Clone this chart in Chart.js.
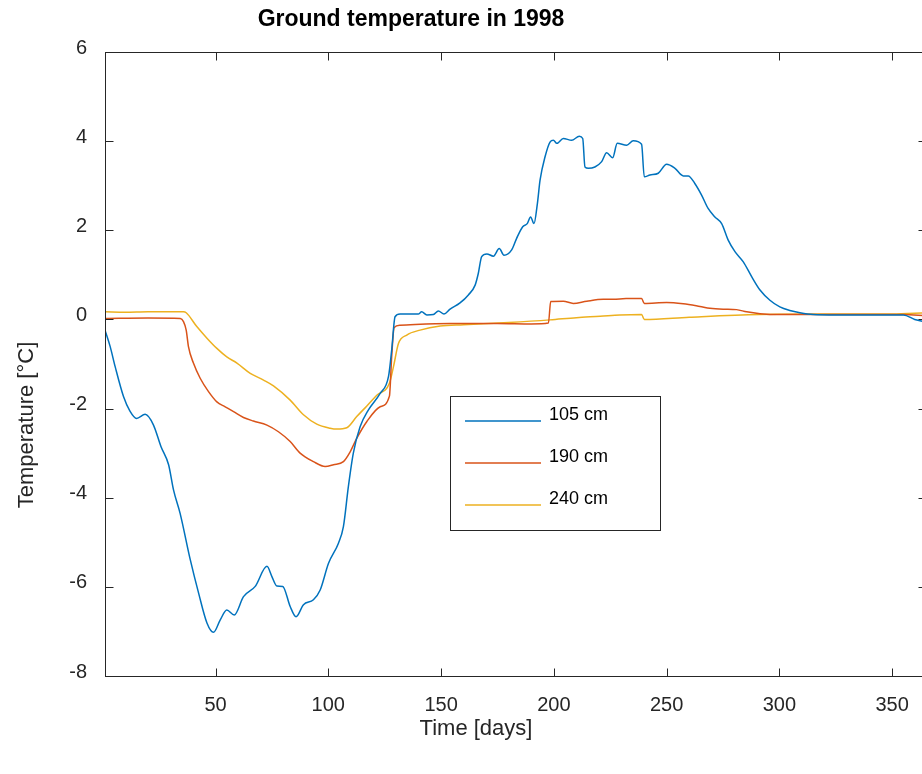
<!DOCTYPE html>
<html>
<head>
<meta charset="utf-8">
<title>Ground temperature in 1998</title>
<script src="https://cdn.jsdelivr.net/npm/chart.js@4.4.1/dist/chart.umd.min.js"></script>
<style>
  html, body { margin: 0; padding: 0; overflow: hidden; background: #fff; }
  #wrap { width: 940px; height: 774px; }
</style>
</head>
<body>
<div id="wrap"><canvas id="groundChart" width="940" height="774"></canvas></div>
<script>
// Daily ground temperature at three depths, 1998
const days105 = [1, 3.3, 5.5, 9.2, 12, 15, 18.8, 22.5, 25.8, 29.2, 31.4, 34.3, 38.8, 42.5, 46.2, 49.1, 52.1, 55, 58.3, 62.4,
  67.6, 72.8, 75, 77.2, 79.8, 83.1, 85.7, 89, 93.4, 96.4, 100.1, 104.5, 106.7, 108.9, 111.1, 114.1, 117.8, 123, 126.7, 128.1,
  129.6, 131.8, 139.9, 141.4, 143.7, 146.6, 148.8, 151.3, 154, 158.4, 162.1, 165.1, 166.5, 168, 170.3, 173.2, 175.8, 177.9,
  181.3, 183.5, 186.2, 188.2, 189.7, 191.2, 192.7, 193.9, 196.1, 198.3, 199.8, 201.3, 204.2, 207.9, 211.3, 212.8, 213.8,
  215.3, 218.2, 221.2, 223.4, 226.1, 228.1, 232.3, 235.2, 238.9, 240.1, 242.6, 246.3, 250, 253.7, 257.4, 259.6, 262.5,
  265.5, 268.4, 271.4, 274.4, 277.3, 280.3, 284, 287.7, 291.4, 295.8, 300.2, 304.6, 309.1, 315, 325, 340, 355, 360, 365];
const temp105 = [-0.24, -0.61, -1.06, -1.73, -2.05, -2.22, -2.13, -2.37, -2.85, -3.26, -3.83, -4.35, -5.39, -6.14, -6.81, -7.02, -6.74, -6.52, -6.63, -6.22,
  -5.99, -5.54, -5.77, -5.98, -5.99, -6.44, -6.67, -6.40, -6.29, -6.07, -5.47, -5.02, -4.65, -3.75, -3.00, -2.41, -2.03, -1.66, -1.28, -0.69,
  0.06, 0.12, 0.12, 0.17, 0.10, 0.11, 0.19, 0.12, 0.23, 0.37, 0.55, 0.77, 1.03, 1.41, 1.47, 1.42, 1.59, 1.44,
  1.56, 1.82, 2.08, 2.15, 2.30, 2.15, 2.60, 3.13, 3.65, 3.98, 4.02, 3.95, 4.06, 4.02, 4.11, 4.06, 3.42,
  3.39, 3.42, 3.54, 3.74, 3.63, 3.95, 3.91, 4.01, 3.93, 3.20, 3.24, 3.28, 3.48, 3.39, 3.22, 3.22, 3.05,
  2.79, 2.49, 2.30, 2.15, 1.78, 1.52, 1.29, 0.96, 0.66, 0.43, 0.28, 0.20, 0.15, 0.11, 0.10, 0.10, 0.10, 0.0, -0.06];

const days190 = [1, 20, 34.4, 35.8, 37, 38, 40.2, 43.2, 46.9, 50.6, 54.3, 58, 62.4, 66.8, 72.8, 77.9, 83.1, 87.5, 93.4, 98.6,
  102.3, 106.7, 109.7, 112.6, 117.1, 123, 127.1, 128.1, 129.2, 131.8, 154, 175, 190, 197.6, 198.6, 204.2, 208.6, 214.6,
  221.9, 226.4, 232, 238.9, 240.1, 250, 257.4, 264.8, 269.2, 275.1, 281, 285.5, 291.4, 300, 330, 355, 365];
const temp190 = [0.02, 0.03, 0.02, -0.05, -0.24, -0.61, -0.98, -1.32, -1.62, -1.85, -1.96, -2.07, -2.20, -2.28, -2.37, -2.52, -2.74, -3.00, -3.19, -3.30,
  -3.26, -3.19, -2.97, -2.67, -2.29, -1.96, -1.72, -0.84, -0.18, -0.13, -0.09, -0.09, -0.10, -0.08, 0.40, 0.41, 0.36, 0.41,
  0.45, 0.45, 0.47, 0.47, 0.36, 0.38, 0.35, 0.29, 0.25, 0.23, 0.22, 0.17, 0.13, 0.11, 0.11, 0.11, 0.08];

const days240 = [1, 10, 20, 35.8, 37, 41.7, 46.2, 50.6, 55, 59.5, 65.4, 71.3, 75.7, 83.1, 89, 94.9, 100.8, 103.8, 108.2, 112.6,
  117.1, 121.5, 127.1, 128.9, 131.1, 134.8, 140.7, 149.6, 160, 180, 198.3, 210, 220.5, 229.3, 238.9, 240.1, 260, 291, 320, 350, 365];
const temp240 = [0.17, 0.16, 0.17, 0.17, 0.15, -0.16, -0.42, -0.65, -0.84, -0.98, -1.21, -1.36, -1.49, -1.81, -2.14, -2.35, -2.44, -2.46, -2.43, -2.18,
  -1.94, -1.70, -1.43, -1.06, -0.54, -0.35, -0.24, -0.15, -0.12, -0.07, -0.01, 0.04, 0.07, 0.10, 0.11, 0.0, 0.05, 0.11, 0.12, 0.12, 0.15];

const depthLabels = ['105 cm', '190 cm', '240 cm'];
const lineColors = ['#0072BD', '#D95319', '#EDB120'];
const xTickValues = [50, 100, 150, 200, 250, 300, 350];
const yTickValues = [-8, -6, -4, -2, 0, 2, 4, 6];

const FONT = 'Liberation Sans, Arial, Helvetica, sans-serif';
const AXIS_COLOR = '#262626';

const toPoints = (xs, ys) => xs.map((x, i) => ({ x: x, y: ys[i] }));

// MATLAB-like box: frame, inward ticks, titles and a boxed legend
const axesBox = {
  id: 'axesBox',
  afterDatasetsDraw(chart) {
    const { ctx, chartArea: a, scales } = chart;
    const L = Math.round(a.left) + 0.5, R = Math.round(a.right) + 0.5;
    const T = Math.round(a.top) + 0.5, B = Math.round(a.bottom) + 0.5;
    const tick = 8;
    ctx.save();
    ctx.strokeStyle = AXIS_COLOR;
    ctx.lineWidth = 1;
    ctx.strokeRect(L, T, R - L, B - T);
    ctx.beginPath();
    xTickValues.forEach(v => {
      const px = Math.round(scales.x.getPixelForValue(v)) + 0.5;
      ctx.moveTo(px, B); ctx.lineTo(px, B - tick);
      ctx.moveTo(px, T); ctx.lineTo(px, T + tick);
    });
    yTickValues.forEach(v => {
      const py = Math.round(scales.y.getPixelForValue(v)) + 0.5;
      ctx.moveTo(L, py); ctx.lineTo(L + tick, py);
      ctx.moveTo(R, py); ctx.lineTo(R - tick, py);
    });
    ctx.stroke();

    // legend
    const lx = a.left + 345, ly = a.top + 344, lw = 210, lh = 134;
    ctx.fillStyle = '#fff';
    ctx.fillRect(lx, ly, lw, lh);
    ctx.strokeRect(Math.round(lx) + 0.5, Math.round(ly) + 0.5, lw, lh);
    ctx.font = '18px ' + FONT;
    ctx.textAlign = 'left';
    ctx.textBaseline = 'alphabetic';
    depthLabels.forEach((label, i) => {
      const rowY = ly + 25 + i * 42;
      ctx.strokeStyle = lineColors[i];
      ctx.lineWidth = 1.5;
      ctx.beginPath();
      ctx.moveTo(lx + 15, rowY); ctx.lineTo(lx + 91, rowY);
      ctx.stroke();
      ctx.fillStyle = '#000';
      ctx.fillText(label, lx + 99, rowY - 1);
    });
    ctx.restore();
  },
  afterDraw(chart) {
    const { ctx, chartArea: a } = chart;
    ctx.save();
    ctx.fillStyle = '#000';
    ctx.textAlign = 'center';
    ctx.textBaseline = 'middle';
    ctx.font = 'bold 23px ' + FONT;
    ctx.fillText('Ground temperature in 1998', a.left + 306, 20);
    ctx.fillStyle = AXIS_COLOR;
    ctx.font = '22px ' + FONT;
    ctx.fillText('Time [days]', a.left + 371, a.bottom + 53);
    ctx.translate(27, a.top + 373);
    ctx.rotate(-Math.PI / 2);
    ctx.fillText('Temperature [°C]', 0, 0);
    ctx.restore();
  }
};

new Chart(document.getElementById('groundChart'), {
  type: 'line',
  data: {
    datasets: [
      { label: depthLabels[0], data: toPoints(days105, temp105), borderColor: lineColors[0] },
      { label: depthLabels[1], data: toPoints(days190, temp190), borderColor: lineColors[1] },
      { label: depthLabels[2], data: toPoints(days240, temp240), borderColor: lineColors[2] }
    ]
  },
  options: {
    responsive: false,
    animation: false,
    devicePixelRatio: 1,
    layout: { padding: { top: 52, right: 14, bottom: 0, left: 0 } },
    elements: {
      line: { borderWidth: 1.5, cubicInterpolationMode: 'monotone', fill: false },
      point: { radius: 0, hoverRadius: 0 }
    },
    scales: {
      x: {
        type: 'linear',
        min: 1,
        max: 365,
        grid: { display: false, drawTicks: false },
        border: { display: false },
        afterBuildTicks: s => { s.ticks = xTickValues.map(v => ({ value: v })); },
        afterFit: s => { s.height = 98; },
        ticks: { font: { family: FONT, size: 20 }, color: AXIS_COLOR, padding: 17, maxRotation: 0 }
      },
      y: {
        min: -8,
        max: 6,
        grid: { display: false, drawTicks: false },
        border: { display: false },
        afterBuildTicks: s => { s.ticks = yTickValues.map(v => ({ value: v })); },
        afterFit: s => { s.width = 105; },
        ticks: { font: { family: FONT, size: 20 }, color: AXIS_COLOR, padding: 18, labelOffset: -4 }
      }
    },
    plugins: {
      legend: { display: false },
      title: { display: false },
      tooltip: { enabled: false }
    }
  },
  plugins: [axesBox]
});
</script>
</body>
</html>
